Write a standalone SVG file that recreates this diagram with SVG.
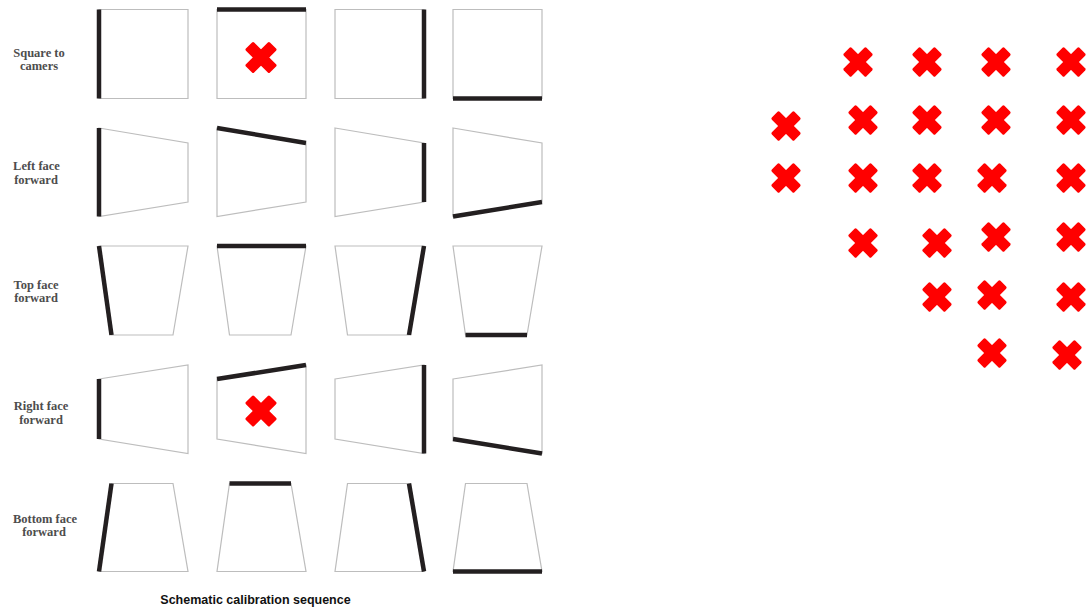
<svg xmlns="http://www.w3.org/2000/svg" width="1088" height="609" viewBox="0 0 1088 609">
<style>
.o{fill:#fff;stroke:#bdbdbd;stroke-width:1.2;stroke-linejoin:miter}
.t{stroke:#231f20;stroke-width:4.5;stroke-linecap:butt}
.lbl{font-family:"Liberation Serif","Times New Roman",serif;font-weight:bold;font-size:12.5px;fill:#4d4d4d;text-anchor:middle}
.cap{font-family:"Liberation Sans",Arial,sans-serif;font-weight:bold;font-size:12.5px;fill:#111;text-anchor:middle}
.xm{fill:#ff0000}
</style>
<defs>
<g id="cross">
<rect x="-17" y="-5.8" width="34" height="11.6" rx="1.5" transform="rotate(45)"/>
<rect x="-17" y="-5.8" width="34" height="11.6" rx="1.5" transform="rotate(-45)"/>
</g>
<g id="xs">
<rect x="-16" y="-5.5" width="32" height="11" rx="1.5" transform="rotate(45)"/>
<rect x="-16" y="-5.5" width="32" height="11" rx="1.5" transform="rotate(-45)"/>
</g>
</defs>
<rect width="1088" height="609" fill="#fff"/>

<g id="labels">
<text class="lbl" x="39" y="56.5">Square to</text>
<text class="lbl" x="39" y="70">camers</text>
<text class="lbl" x="36.5" y="170">Left face</text>
<text class="lbl" x="36" y="183.5">forward</text>
<text class="lbl" x="36" y="288.5">Top face</text>
<text class="lbl" x="36" y="302">forward</text>
<text class="lbl" x="41" y="410">Right face</text>
<text class="lbl" x="41" y="423.5">forward</text>
<text class="lbl" x="45" y="522.5">Bottom face</text>
<text class="lbl" x="44" y="535.5">forward</text>
</g>

<!-- Row 1: square -->
<g id="r1c1" transform="translate(99,0)"><polygon class="o" points="0,9.5 89,9.5 89,98.5 0,98.5"/><line class="t" x1="0" y1="9.5" x2="0" y2="98.5"/></g>
<g id="r1c2" transform="translate(217,0)"><polygon class="o" points="0,9.5 89,9.5 89,98.5 0,98.5"/><line class="t" x1="0" y1="9.5" x2="89" y2="9.5"/><use href="#cross" class="xm" x="44" y="57.5"/></g>
<g id="r1c3" transform="translate(335,0)"><polygon class="o" points="0,9.5 89,9.5 89,98.5 0,98.5"/><line class="t" x1="89" y1="9.5" x2="89" y2="98.5"/></g>
<g id="r1c4" transform="translate(453,0)"><polygon class="o" points="0,9.5 89,9.5 89,98.5 0,98.5"/><line class="t" x1="0" y1="98.5" x2="89" y2="98.5"/></g>

<!-- Row 2: left face forward -->
<g id="r2c1" transform="translate(99,0)"><polygon class="o" points="0,128 89,143 89,202 0,216.5"/><line class="t" x1="0" y1="128" x2="0" y2="216.5"/></g>
<g id="r2c2" transform="translate(217,0)"><polygon class="o" points="0,128 89,143 89,202 0,216.5"/><line class="t" x1="0" y1="128" x2="89" y2="143"/></g>
<g id="r2c3" transform="translate(335,0)"><polygon class="o" points="0,128 89,143 89,202 0,216.5"/><line class="t" x1="89" y1="143" x2="89" y2="202"/></g>
<g id="r2c4" transform="translate(453,0)"><polygon class="o" points="0,128 89,143 89,202 0,216.5"/><line class="t" x1="0" y1="216.5" x2="89" y2="202"/></g>

<!-- Row 3: top face forward -->
<g id="r3c1" transform="translate(99,0)"><polygon class="o" points="0,246 89,246 74,335 12.5,335"/><line class="t" x1="0" y1="246" x2="12.5" y2="335"/></g>
<g id="r3c2" transform="translate(217,0)"><polygon class="o" points="0,246 89,246 74,335 12.5,335"/><line class="t" x1="0" y1="246" x2="89" y2="246"/></g>
<g id="r3c3" transform="translate(335,0)"><polygon class="o" points="0,246 89,246 74,335 12.5,335"/><line class="t" x1="89" y1="246" x2="74" y2="335"/></g>
<g id="r3c4" transform="translate(453,0)"><polygon class="o" points="0,246 89,246 74,335 12.5,335"/><line class="t" x1="12.5" y1="335" x2="74" y2="335"/></g>

<!-- Row 4: right face forward -->
<g id="r4c1" transform="translate(99,0)"><polygon class="o" points="0,379 89,365 89,453.5 0,439"/><line class="t" x1="0" y1="379" x2="0" y2="439"/></g>
<g id="r4c2" transform="translate(217,0)"><polygon class="o" points="0,379 89,365 89,453.5 0,439"/><line class="t" x1="0" y1="379" x2="89" y2="365"/><use href="#cross" class="xm" x="44" y="411"/></g>
<g id="r4c3" transform="translate(335,0)"><polygon class="o" points="0,379 89,365 89,453.5 0,439"/><line class="t" x1="89" y1="365" x2="89" y2="453.5"/></g>
<g id="r4c4" transform="translate(453,0)"><polygon class="o" points="0,379 89,365 89,453.5 0,439"/><line class="t" x1="0" y1="439" x2="89" y2="453.5"/></g>

<!-- Row 5: bottom face forward -->
<g id="r5c1" transform="translate(99,0)"><polygon class="o" points="12.5,483.5 74,483.5 89,571.5 0,571.5"/><line class="t" x1="12.5" y1="483.5" x2="0" y2="571.5"/></g>
<g id="r5c2" transform="translate(217,0)"><polygon class="o" points="12.5,483.5 74,483.5 89,571.5 0,571.5"/><line class="t" x1="12.5" y1="483.5" x2="74" y2="483.5"/></g>
<g id="r5c3" transform="translate(335,0)"><polygon class="o" points="12.5,483.5 74,483.5 89,571.5 0,571.5"/><line class="t" x1="74" y1="483.5" x2="89" y2="571.5"/></g>
<g id="r5c4" transform="translate(453,0)"><polygon class="o" points="12.5,483.5 74,483.5 89,571.5 0,571.5"/><line class="t" x1="0" y1="571.5" x2="89" y2="571.5"/></g>

<text id="caption" class="cap" x="255.5" y="603.5">Schematic calibration sequence</text>

<g id="crosses" class="xm">
<use href="#xs" x="858" y="62"/>
<use href="#xs" x="927" y="62"/>
<use href="#xs" x="996" y="62"/>
<use href="#xs" x="1071" y="62"/>
<use href="#xs" x="786" y="126"/>
<use href="#xs" x="863" y="120"/>
<use href="#xs" x="927" y="120"/>
<use href="#xs" x="996" y="120"/>
<use href="#xs" x="1071" y="120"/>
<use href="#xs" x="786" y="178"/>
<use href="#xs" x="863" y="178"/>
<use href="#xs" x="927" y="178"/>
<use href="#xs" x="992" y="178"/>
<use href="#xs" x="1071" y="178"/>
<use href="#xs" x="863" y="243"/>
<use href="#xs" x="937" y="243"/>
<use href="#xs" x="996" y="237"/>
<use href="#xs" x="1071" y="237"/>
<use href="#xs" x="937" y="297"/>
<use href="#xs" x="992" y="295"/>
<use href="#xs" x="1071" y="297"/>
<use href="#xs" x="992" y="353"/>
<use href="#xs" x="1067" y="355"/>
</g>
</svg>
